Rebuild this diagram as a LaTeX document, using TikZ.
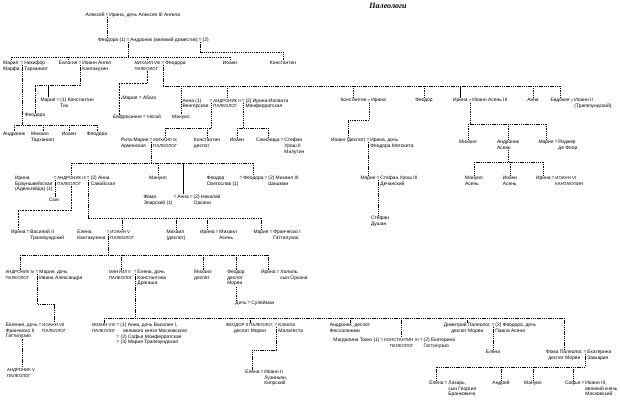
\documentclass[tikz,border=0pt]{standalone}
\usepackage{fontspec}
\setmainfont{Liberation Sans}
\newfontfamily\titlefont{Liberation Serif}
\newcommand{\fsz}{\fontsize{4.9}{5.8}\selectfont}
\newcommand{\rsz}{\fontsize{4.3}{5.8}\selectfont}
\newcommand{\capup}{\rule{0pt}{3.55pt}}
\tikzstyle{person} = [inner sep=0.3pt, align=left, font=\fsz]
\tikzstyle{ruler} = [person, font=\rsz]
\tikzstyle{wed} = [person, anchor=north, text height=3.55pt, text depth=0pt]
\tikzstyle{kin} = [line width=0.45pt, dash pattern=on 1.3pt off 0.9pt]
\tikzstyle{bast} = [line width=0.5pt, dash pattern=on 0.5pt off 1.1pt]
\tikzstyle{tie} = [line width=0.45pt]

\begin{document}
\begin{tikzpicture}[x=1pt,y=-1pt]
\fill[white] (0,0) rectangle (620,403);
\useasboundingbox (0,0) rectangle (620,403);

\node[font=\titlefont\bfseries\itshape\fontsize{8}{9}\selectfont, inner sep=0pt] (title) at (388,5.5) {Палеологи};

\coordinate (r1) at (0,57);
\coordinate (r1b) at (0,52);
\coordinate (r2) at (0,85);
\coordinate (r2t) at (0,125);
\coordinate (r3) at (119,83);
\coordinate (r4) at (0,86);
\coordinate (r5) at (0,128);
\coordinate (r5c) at (0,120);
\coordinate (r5d) at (0,124);
\coordinate (r6) at (0,163);
\coordinate (r6b) at (0,210);
\coordinate (r6c) at (0,162);
\coordinate (r7) at (0,218);
\coordinate (r8) at (0,255);
\coordinate (r9a) at (0,304);
\coordinate (r9) at (0,318);
\coordinate (r10a) at (0,350);
\coordinate (r10) at (0,367);

\node[wed] (e0) at (107,12.5) {=};
\node[person, anchor=north east] (alexios) at (e0.north west) {Алексей};
\node[person, anchor=north west] (irene0) at (e0.north east) {Ирина, дочь Алексея III Ангела};

\node[wed] (e1) at (128,37.5) {=};
\node[person, anchor=north east] (theodora1) at (e1.north west) {Феодора (1)};
\node[person, anchor=north west] (andronikos1) at (e1.north east) {Андроник (великий доместик)};
\node[wed, anchor=north west] (e1b) at (andronikos1.north east) {=};
\node[person, anchor=north west] (wife2) at (e1b.north east) {(2)};

\node[wed] (e2a) at (22,60.5) {=};
\node[person, anchor=north east] (maria2) at (e2a.north west) {Мария\\Марфа};
\node[person, anchor=north west] (tarch) at (e2a.north east) {Никифор\\Тарханиот};
\node[wed] (e2b) at (80,60.5) {=};
\node[person, anchor=north east] (eulogia) at (e2b.north west) {Евлогия};
\node[person, anchor=north west] (kantak) at (e2b.north east) {Иоанн Ангел\\Кантакузин};
\node[wed] (e2c) at (163,60.5) {=};
\node[ruler, anchor=north east] (michael8) at (e2c.north west) {\capup МИХАИЛ VIII\\ПАЛЕОЛОГ};
\node[person, anchor=north west] (theodora8) at (e2c.north east) {Феодора};
\node[person, anchor=north] (ioann2) at (230,60.5) {Иоанн};
\node[person, anchor=north] (konst2) at (283,60.5) {Константин};

\node[wed] (e3a) at (58,97.5) {=};
\node[person, anchor=north east] (maria3) at (e3a.north west) {Мария};
\node[person, anchor=north west] (tikh) at (e3a.north east) {(1) Константин\\Тих};
\node[person, anchor=north] (theodora3) at (35,112.5) {Феодора};
\node[person, anchor=north] (andr3) at (14,131.5) {Андроник};
\node[person, anchor=north] (mich3) at (43,131.5) {Михаил\\Тарханиот};
\node[person, anchor=north] (ioann3) at (69,131.5) {Иоанн};
\node[person, anchor=north] (theod3) at (97,131.5) {Феодора};
\node[person, anchor=north west] (abaga) at (122,95.5) {Мария = Абага};
\node[person, anchor=north] (nogai) at (137,114.5) {Евфросиния = Ногай};
\node[person, anchor=north] (manuel3) at (181,114.5) {Мануил};

\node[wed] (e4a) at (211,98) {=};
\node[person, anchor=north east] (anna4) at (e4a.north west) {Анна (1)\\Венгерская};
\node[ruler, anchor=north west] (andronikos2) at (e4a.north east) {\capup АНДРОНИК II\\ПАЛЕОЛОГ};
\node[wed, anchor=north west] (e4b) at (andronikos2.north east) {=};
\node[person, anchor=north west] (irene4) at (e4b.north east) {(2) Ирина-Иоланта\\Монферратская};
\node[wed] (e4c) at (369,98) {=};
\node[person, anchor=north east] (konst4) at (e4c.north west) {Константин};
\node[person, anchor=north west] (irene4c) at (e4c.north east) {Ирина};
\node[person, anchor=north] (theodor4) at (424,98) {Феодор};
\node[wed] (e4d) at (470,98) {=};
\node[person, anchor=north east] (irene4d) at (e4d.north west) {Ирина};
\node[person, anchor=north west] (asen3) at (e4d.north east) {Иоанн Асень III};
\node[person, anchor=north] (anna4b) at (533,98) {Анна};
\node[wed] (e4e) at (572,98) {=};
\node[person, anchor=north east] (eudokia) at (e4e.north west) {Евдокия};
\node[person, anchor=north west] (trebiz) at (e4e.north east) {Иоанн II\\(Трапезундский)};

\node[wed] (e5a) at (151,137.5) {=};
\node[person, anchor=north east] (rita) at (e5a.north west) {Рита-Мария\\Армянская};
\node[ruler, anchor=north west] (michael9) at (e5a.north east) {\capup МИХАИЛ IX\\ПАЛЕОЛОГ};
\node[person, anchor=north] (konst5) at (207,137.5) {Константин\\деспот};
\node[person, anchor=north] (ioann5) at (237,137.5) {Иоанн};
\node[wed] (e5b) at (282,137.5) {=};
\node[person, anchor=north east] (simonis) at (e5b.north west) {Симонида};
\node[person, anchor=north west] (milutin) at (e5b.north east) {Стефан\\Урош II\\Милутин};
\node[wed] (e5c) at (368,137.5) {=};
\node[person, anchor=north east] (ioannd) at (e5c.north west) {Иоанн (деспот)};
\node[person, anchor=north west] (metoch) at (e5c.north east) {Ирина, дочь\\Феодора Метохита};
\node[person, anchor=north] (mich5) at (468,139.5) {Михаил};
\node[person, anchor=north] (andrasen) at (508,139.5) {Андроник\\Асень};
\node[wed] (e5d) at (556,139.5) {=};
\node[person, anchor=north east] (maria5) at (e5d.north west) {Мария};
\node[person, anchor=north west] (roger) at (e5d.north east) {Роджер\\де Флор};

\node[wed] (e6a) at (55,175.5) {=};
\node[person, anchor=north east] (irene6) at (e6a.north west) {Ирина\\Брауншвейгская\\(Адельгейда) (1)};
\node[ruler, anchor=north west] (andronikos3) at (e6a.north east) {\capup АНДРОНИК III\\ПАЛЕОЛОГ};
\node[wed, anchor=north west] (e6b) at (andronikos3.north east) {=};
\node[person, anchor=north west] (annasav) at (e6b.north east) {(2) Анна\\Савойская};
\node[person, anchor=north] (son) at (54,197.5) {Сын};
\node[person, anchor=north] (manuel6) at (158,175.5) {Мануил};
\node[wed] (e6c) at (175,194.5) {=};
\node[person, anchor=north east] (thomasep) at (e6c.north west) {Фома\\Эпирский (1)};
\node[person, anchor=north west] (anna6) at (e6c.north east) {Анна};
\node[wed, anchor=north west] (e6d) at (anna6.north east) {=};
\node[person, anchor=north west] (orsini) at (e6d.north east) {(2) Николай\\Орсини};
\node[wed] (e6e) at (241,175.5) {=};
\node[person, anchor=north east] (svet) at (e6e.north west) {Феодор\\Святослав (1)};
\node[person, anchor=north west] (theodora6) at (e6e.north east) {Феодора};
\node[wed, anchor=north west] (e6f) at (theodora6.north east) {=};
\node[person, anchor=north west] (shishman) at (e6f.north east) {(2) Михаил III\\Шишман};
\node[wed] (e6g) at (378,175.5) {=};
\node[person, anchor=north east] (maria6) at (e6g.north west) {Мария};
\node[person, anchor=north west] (decanski) at (e6g.north east) {Стефан Урош III\\Дечанский};
\node[person, anchor=north] (dusan) at (380,215.5) {Стефан\\Душан};
\node[person, anchor=north] (manasen) at (474,175.5) {Мануил\\Асень};
\node[person, anchor=north] (ioasen) at (510,175.5) {Иоанн\\Асень};
\node[wed] (e6h) at (553,175.5) {=};
\node[person, anchor=north east] (irene6h) at (e6h.north west) {Ирина};
\node[ruler, anchor=north west] (kantak6) at (e6h.north east) {\capup ИОАНН VI\\КАНТАКУЗИН};

\node[wed] (e7a) at (28,229.5) {=};
\node[person, anchor=north east] (irene7) at (e7a.north west) {Ирина};
\node[person, anchor=north west] (basil) at (e7a.north east) {Василий II\\Трапезундский};
\node[wed] (e7b) at (108,229.5) {=};
\node[person, anchor=north east] (helena7) at (e7b.north west) {Елена\\Кантакузина};
\node[ruler, anchor=north west] (ioann5e) at (e7b.north east) {\capup ИОАНН V\\ПАЛЕОЛОГ};
\node[person, anchor=north] (michael7) at (176,229.5) {Михаил\\(деспот)};
\node[wed] (e7c) at (217,229.5) {=};
\node[person, anchor=north east] (irene7c) at (e7c.north west) {Ирина};
\node[person, anchor=north west] (asen7) at (e7c.north east) {Михаил\\Асень};
\node[wed] (e7d) at (271,229.5) {=};
\node[person, anchor=north east] (maria7) at (e7d.north west) {Мария};
\node[person, anchor=north west] (gatt7) at (e7d.north east) {Франческо I\\Гаттилузио};

\node[wed] (e8a) at (37,269.5) {=};
\node[ruler, anchor=north east] (andronikos4) at (e8a.north west) {\capup АНДРОНИК IV\\ПАЛЕОЛОГ};
\node[person, anchor=north west] (maria8) at (e8a.north east) {Мария, дочь\\Ивана Александра};
\node[wed] (e8b) at (135,269.5) {=};
\node[ruler, anchor=north east] (manuel2) at (e8b.north west) {\capup МАНУИЛ II\\ПАЛЕОЛОГ};
\node[person, anchor=north west] (helena8) at (e8b.north east) {Елена, дочь\\Константина\\Драгаша};
\node[person, anchor=north] (michael8b) at (203,269.5) {Михаил\\деспот};
\node[person, anchor=north] (theodor8) at (236,269.5) {Феодор\\деспот\\Мореи};
\node[wed] (e8c) at (278,269.5) {=};
\node[person, anchor=north east] (irene8) at (e8c.north west) {Ирина};
\node[person, anchor=north west] (khalil) at (e8c.north east) {Халиль,\\сын Орхана};
\node[wed] (e8d) at (249,300.5) {=};
\node[person, anchor=north east] (daughter8) at (e8d.north west) {Дочь};
\node[person, anchor=north west] (suleyman) at (e8d.north east) {Сулейман};

\node[wed] (e9g) at (40,322.5) {=};
\node[person, anchor=north east] (eugenia) at (e9g.north west) {Евгения, дочь\\Франческо II\\Гаттилузио};
\node[ruler, anchor=north west] (ioann7) at (e9g.north east) {\capup ИОАНН VII\\ПАЛЕОЛОГ};
\node[ruler, anchor=north] (andronikos5) at (21,367.5) {\capup АНДРОНИК V\\ПАЛЕОЛОГ};
\node[wed] (e9a) at (118,322.5) {=};
\node[ruler, anchor=north east] (ioann8) at (e9a.north west) {\capup ИОАНН VIII\\ПАЛЕОЛОГ};
\node[person, anchor=north west] (wives8) at (e9a.north east) {(1) Анна, дочь Василия I,\\\hspace*{3pt}великого князя Московского\\\hspace*{-4pt}= (2) Софья Монферратская\\\hspace*{-4pt}= (3) Мария Трапезундская};
\node[wed] (e9b) at (276,322.5) {=};
\node[person, anchor=north east, align=center] (theodor2) at (e9b.north west) {{\rsz\capup ФЕОДОР II ПАЛЕОЛОГ,}\\деспот Мореи};
\node[person, anchor=north west] (cleopa) at (e9b.north east) {Клеопа\\Малатеста};
\node[person, anchor=north] (andronikos9) at (350,322.5) {Андроник, деспот\\Фессалоники};
\node[wed] (e9c) at (382,337.5) {=};
\node[person, anchor=north east] (tocco) at (e9c.north west) {Магдалина Токко (1)};
\node[ruler, anchor=north west, align=center] (konst11) at (e9c.north east) {\capup КОНСТАНТИН XI\\ПАЛЕОЛОГ};
\node[wed, anchor=north west] (e9d) at (konst11.north east) {=};
\node[person, anchor=north west] (ekaterina) at (e9d.north east) {(2) Екатерина\\Гаттилузио};
\node[wed] (e9e) at (493,322.5) {=};
\node[person, anchor=north east, align=center] (demetrios) at (e9e.north west) {Димитрий Палеолог,\\деспот Мореи};
\node[person, anchor=north west] (theodora9) at (e9e.north east) {(2) Феодора, дочь\\Павла Асеня};
\node[person, anchor=north] (helena9) at (493,349.5) {Елена};
\node[wed] (e9f) at (585,349.5) {=};
\node[person, anchor=north east, align=center] (thomas) at (e9f.north west) {Фома Палеолог,\\деспот Мореи};
\node[person, anchor=north west] (zaccaria) at (e9f.north east) {Екатерина\\Заккария};

\node[wed] (e10c) at (262,369.5) {=};
\node[person, anchor=north east] (helena10) at (e10c.north west) {Елена};
\node[person, anchor=north west] (lusignan) at (e10c.north east) {Иоанн II\\Лузиньян,\\Кипрский};
\node[wed] (e10a) at (446,380.5) {=};
\node[person, anchor=north east] (helena10b) at (e10a.north west) {Елена};
\node[person, anchor=north west] (lazar) at (e10a.north east) {Лазарь,\\сын Георгия\\Бранковича};
\node[person, anchor=north] (andrew) at (501,380.5) {Андрей};
\node[person, anchor=north] (manuel10) at (533,380.5) {Мануил};
\node[wed] (e10b) at (583,380.5) {=};
\node[person, anchor=north east] (sophia) at (e10b.north west) {Софья};
\node[person, anchor=north west] (ivan3) at (e10b.north east) {Иоанн III,\\великий князь\\Московский};

\draw[kin] (e0.south) -- (e0.south |- theodora1.north);
\draw[kin] (e1.south) -- (e1.south |- r1);
\draw[kin] (r1 -| maria2.north) -- (r1 -| ioann2.north);
\foreach \k in {maria2, eulogia, michael8, ioann2} \draw[kin] (r1 -| \k.north) -- (\k.north);
\draw[kin] (e1b.south) |- (r1b -| konst2.north) -- (konst2.north);

\draw[kin] (e2b.south) -- (e2b.south |- r2) -- (r2 -| theodora3.north) -- (theodora3.north);
\draw[tie] (r2 -| maria3.north) -- (maria3.north);
\draw[kin] (e2a.south) -- (e2a.south |- r2t);
\draw[kin] (r2t -| andr3.north) -- (r2t -| theod3.north);
\foreach \k in {andr3, mich3, ioann3, theod3} \draw[kin] (r2t -| \k.north) -- (\k.north);
\draw[bast] (michael8.south) |- (r3) -- (r3 |- nogai.north);
\draw[bast] (r3 |- abaga.west) -- (abaga.west);

\draw[kin] (e2c.south) -- (e2c.south |- r4);
\draw[kin] (r4 -| e2c.south) -- (r4 -| eudokia.north);
\foreach \k in {manuel3, andronikos2, konst4, theodor4, anna4b, eudokia} \draw[kin] (r4 -| \k.north) -- (\k.north);
\draw[tie] (r4 -| irene4d.north) -- (irene4d.north);

\draw[kin] (e4a.south) -- (e4a.south |- r5);
\draw[kin] (r5 -| michael9.north) -- (r5 -| e4a.south);
\foreach \k in {michael9, konst5} \draw[kin] (r5 -| \k.north) -- (\k.north);
\draw[kin] (e4b.south) -- (e4b.south |- r5);
\draw[kin] (r5 -| ioann5.north) -- (r5 -| simonis.north);
\foreach \k in {ioann5, simonis} \draw[kin] (r5 -| \k.north) -- (\k.north);
\draw[kin] (e4c.south) |- (r5c -| ioannd.north) -- (ioannd.north);
\draw[kin] (e4d.south) -- (e4d.south |- r5d);
\draw[kin] (r5d -| mich5.north) -- (r5d -| maria5.north);
\foreach \k in {mich5, andrasen, maria5} \draw[kin] (r5d -| \k.north) -- (\k.north);

\draw[kin] (e5a.south) -- (e5a.south |- r6);
\draw[kin] (r6 -| andronikos3.north) -- (r6 -| theodora6.north);
\foreach \k in {andronikos3, manuel6, theodora6} \draw[kin] (r6 -| \k.north) -- (\k.north);
\draw[tie] (r6 -| anna6.north) -- (anna6.north);
\draw[kin] (e5c.south) -- (e5c.south |- maria6.north);
\draw[kin] (e6g.south) -- (e6g.south |- dusan.north);
\draw[kin] (andrasen.south) -- (andrasen.south |- r6c);
\draw[kin] (r6c -| manasen.north) -- (r6c -| irene6h.north);
\foreach \k in {manasen, ioasen, irene6h} \draw[kin] (r6c -| \k.north) -- (\k.north);

\draw[kin] (e6a.south) -- (e6a.south |- son.north);
\draw[bast] (andronikos3.south) |- (r6b -| irene7.north) -- (irene7.north);
\draw[kin] (e6b.south) -- (e6b.south |- r7);
\draw[kin] (r7 -| e6b.south) -- (r7 -| maria7.north);
\foreach \k in {ioann5e, michael7, irene7c, maria7} \draw[kin] (r7 -| \k.north) -- (\k.north);

\draw[kin] (e7b.south) -- (e7b.south |- r8);
\draw[kin] (r8 -| andronikos4.north) -- (r8 -| irene8.north);
\foreach \k in {andronikos4, manuel2, michael8b, theodor8, irene8} \draw[kin] (r8 -| \k.north) -- (\k.north);
\draw[kin] (theodor8.south) -- (theodor8.south |- daughter8.north);

\draw[kin] (e8a.south) |- (r9a -| ioann7.north) -- (ioann7.north);
\draw[kin] (eugenia.south) -- (eugenia.south |- andronikos5.north);
\draw[kin] (e8b.south) -- (e8b.south |- r9);
\draw[kin] (r9 -| ioann8.north) -- (r9 -| thomas.north);
\foreach \k in {ioann8, theodor2, andronikos9, konst11, demetrios, thomas} \draw[kin] (r9 -| \k.north) -- (\k.north);
\draw[kin] (e9e.south) -- (e9e.south |- helena9.north);
\draw[kin] (e9b.south) |- (r10a -| helena10.north) -- (helena10.north);
\draw[kin] (e9f.south) -- (e9f.south |- r10);
\draw[kin] (r10 -| helena10b.north) -- (r10 -| e9f.south);
\foreach \k in {helena10b, andrew, manuel10, sophia} \draw[kin] (r10 -| \k.north) -- (\k.north);
\end{tikzpicture}
\end{document}
